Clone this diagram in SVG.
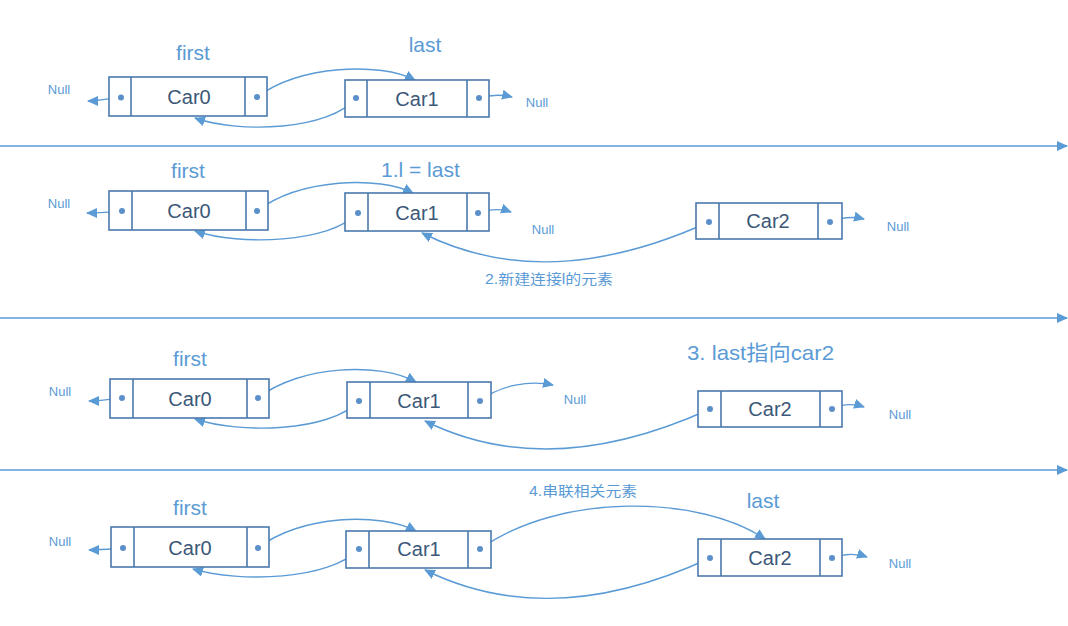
<svg xmlns="http://www.w3.org/2000/svg" width="1068" height="626" viewBox="0 0 1068 626">
<defs>
<marker id="ah" markerUnits="userSpaceOnUse" markerWidth="11" markerHeight="10" refX="10" refY="5" orient="auto">
<path d="M0,0 L11,5 L0,10 z" fill="#5b9bd5"/>
</marker>
<style>
.box{fill:#ffffff;stroke:#4a78ad;stroke-width:1.6}
.div{stroke:#4a78ad;stroke-width:1.6}
.dot{fill:#5b8fc9}
.car{font-family:"Liberation Sans",Arial,sans-serif;font-size:20px;fill:#3b5878;text-anchor:middle}
.lbl{font-family:"Liberation Sans",Arial,sans-serif;font-size:21px;fill:#5b9bd5;text-anchor:middle}
.lbls{font-family:"Liberation Sans",Arial,sans-serif;font-size:21px;fill:#5b9bd5}
.null{font-family:"Liberation Sans",Arial,sans-serif;font-size:13px;fill:#5b9bd5;text-anchor:middle}
.cjk{font-family:"Liberation Sans","Noto Sans CJK SC",sans-serif;font-size:14px;fill:#5b9bd5}
.cjkl{font-family:"Liberation Sans","Noto Sans CJK SC",sans-serif;font-size:21px;fill:#5b9bd5}
.ln{fill:none;stroke:#5b9bd5;stroke-width:1.4;marker-end:url(#ah)}
</style>
</defs>
<rect width="1068" height="626" fill="#ffffff"/>

<g id="separators">
<path class="ln" d="M0,146 L1067,146"/>
<path class="ln" d="M0,318 L1067,318"/>
<path class="ln" d="M0,470 L1067,470"/>
</g>

<g id="connectors">
<!-- row 1 -->
<path class="ln" d="M121,97.5 C110,98 100,101 88,101"/>
<path class="ln" d="M479,98 C490,95 500,94 512,97"/>
<path class="ln" d="M257,97 C300,65 380,62 415,80"/>
<path class="ln" d="M356,98 C330,130 240,134 195,118"/>
<!-- row 2 -->
<path class="ln" d="M122,211 C110,212 100,213 87,213"/>
<path class="ln" d="M478,213 C490,209 500,208 511,212"/>
<path class="ln" d="M257,211 C300,178 380,176 413,193"/>
<path class="ln" d="M358,213 C330,243 240,246 195,231"/>
<path class="ln" d="M709,222 C620,262 520,282 422,233"/>
<path class="ln" d="M830,222 C842,217 852,216 864,219"/>
<!-- row 3 -->
<path class="ln" d="M122,398 C110,399 100,401 89,401"/>
<path class="ln" d="M480,401 C500,385 530,380 553,385"/>
<path class="ln" d="M258,398 C300,365 380,362 416,382"/>
<path class="ln" d="M359,401 C330,432 240,434 195,419"/>
<path class="ln" d="M710,409 C620,450 520,468 425,421"/>
<path class="ln" d="M832,409 C842,404 852,403 864,407"/>
<!-- row 4 -->
<path class="ln" d="M123,548 C110,549 100,550 89,550"/>
<path class="ln" d="M258,548 C300,515 380,512 416,531"/>
<path class="ln" d="M359,549 C330,580 240,583 193,569"/>
<path class="ln" d="M480,549 C560,492 700,495 765,539"/>
<path class="ln" d="M710,558 C620,600 520,617 425,570"/>
<path class="ln" d="M832,558 C845,553 855,553 867,557"/>
</g>

<g id="row1-car0">
<rect class="box" x="109" y="77" width="158" height="39"/>
<line class="div" x1="131" y1="77" x2="131" y2="116"/><line class="div" x1="245" y1="77" x2="245" y2="116"/>
<circle class="dot" cx="121" cy="97.5" r="3"/><circle class="dot" cx="257" cy="97" r="3"/>
<text class="car" x="189" y="104">Car0</text>
</g>
<g id="row1-car1">
<rect class="box" x="345" y="80" width="144" height="37"/>
<line class="div" x1="367" y1="80" x2="367" y2="117"/><line class="div" x1="467" y1="80" x2="467" y2="117"/>
<circle class="dot" cx="356" cy="98" r="3"/><circle class="dot" cx="479" cy="98" r="3"/>
<text class="car" x="417" y="106">Car1</text>
</g>
<g id="row1-labels">
<text class="lbl" x="193" y="60">first</text>
<text class="lbl" x="425" y="52">last</text>
<text class="null" x="59" y="94">Null</text>
<text class="null" x="537" y="107">Null</text>
</g>

<g id="row2-car0">
<rect class="box" x="109" y="191" width="159" height="39"/>
<line class="div" x1="132" y1="191" x2="132" y2="230"/><line class="div" x1="246" y1="191" x2="246" y2="230"/>
<circle class="dot" cx="122" cy="211" r="3"/><circle class="dot" cx="257" cy="211" r="3"/>
<text class="car" x="189" y="218">Car0</text>
</g>
<g id="row2-car1">
<rect class="box" x="345" y="193" width="144" height="38"/>
<line class="div" x1="368" y1="193" x2="368" y2="231"/><line class="div" x1="467" y1="193" x2="467" y2="231"/>
<circle class="dot" cx="358" cy="213" r="3"/><circle class="dot" cx="478" cy="213" r="3"/>
<text class="car" x="417" y="220">Car1</text>
</g>
<g id="row2-car2">
<rect class="box" x="696" y="203" width="146" height="36"/>
<line class="div" x1="719" y1="203" x2="719" y2="239"/><line class="div" x1="818" y1="203" x2="818" y2="239"/>
<circle class="dot" cx="709" cy="222" r="3"/><circle class="dot" cx="830" cy="222" r="3"/>
<text class="car" x="768" y="228">Car2</text>
</g>
<g id="row2-labels">
<text class="lbl" x="188" y="178">first</text>
<text class="lbls" x="381" y="177">1.l = last</text>
<text class="cjk" x="485" y="284" textLength="128" lengthAdjust="spacingAndGlyphs">2.新建连接l的元素</text>
<text class="null" x="59" y="208">Null</text>
<text class="null" x="543" y="234">Null</text>
<text class="null" x="898" y="231">Null</text>
</g>

<g id="row3-car0">
<rect class="box" x="110" y="379" width="159" height="39"/>
<line class="div" x1="133" y1="379" x2="133" y2="418"/><line class="div" x1="247" y1="379" x2="247" y2="418"/>
<circle class="dot" cx="122" cy="398" r="3"/><circle class="dot" cx="258" cy="398" r="3"/>
<text class="car" x="190" y="406">Car0</text>
</g>
<g id="row3-car1">
<rect class="box" x="347" y="382" width="144" height="36"/>
<line class="div" x1="370" y1="382" x2="370" y2="418"/><line class="div" x1="468" y1="382" x2="468" y2="418"/>
<circle class="dot" cx="359" cy="401" r="3"/><circle class="dot" cx="480" cy="401" r="3"/>
<text class="car" x="419" y="408">Car1</text>
</g>
<g id="row3-car2">
<rect class="box" x="698" y="391" width="144" height="36"/>
<line class="div" x1="721" y1="391" x2="721" y2="427"/><line class="div" x1="820" y1="391" x2="820" y2="427"/>
<circle class="dot" cx="710" cy="409" r="3"/><circle class="dot" cx="832" cy="409" r="3"/>
<text class="car" x="770" y="416">Car2</text>
</g>
<g id="row3-labels">
<text class="lbl" x="190" y="366">first</text>
<text class="cjkl" x="687" y="360" textLength="147" lengthAdjust="spacingAndGlyphs">3. last指向car2</text>
<text class="null" x="60" y="396">Null</text>
<text class="null" x="575" y="404">Null</text>
<text class="null" x="900" y="419">Null</text>
</g>

<g id="row4-car0">
<rect class="box" x="111" y="527" width="158" height="40"/>
<line class="div" x1="134" y1="527" x2="134" y2="567"/><line class="div" x1="247" y1="527" x2="247" y2="567"/>
<circle class="dot" cx="123" cy="548" r="3"/><circle class="dot" cx="258" cy="548" r="3"/>
<text class="car" x="190" y="555">Car0</text>
</g>
<g id="row4-car1">
<rect class="box" x="346" y="531" width="145" height="37"/>
<line class="div" x1="369" y1="531" x2="369" y2="568"/><line class="div" x1="468" y1="531" x2="468" y2="568"/>
<circle class="dot" cx="359" cy="549" r="3"/><circle class="dot" cx="480" cy="549" r="3"/>
<text class="car" x="419" y="556">Car1</text>
</g>
<g id="row4-car2">
<rect class="box" x="698" y="539" width="144" height="37"/>
<line class="div" x1="721" y1="539" x2="721" y2="576"/><line class="div" x1="820" y1="539" x2="820" y2="576"/>
<circle class="dot" cx="710" cy="558" r="3"/><circle class="dot" cx="832" cy="558" r="3"/>
<text class="car" x="770" y="565">Car2</text>
</g>
<g id="row4-labels">
<text class="lbl" x="190" y="515">first</text>
<text class="lbl" x="763" y="508">last</text>
<text class="cjk" x="529" y="496" textLength="108" lengthAdjust="spacingAndGlyphs">4.串联相关元素</text>
<text class="null" x="60" y="546">Null</text>
<text class="null" x="900" y="568">Null</text>
</g>
</svg>
